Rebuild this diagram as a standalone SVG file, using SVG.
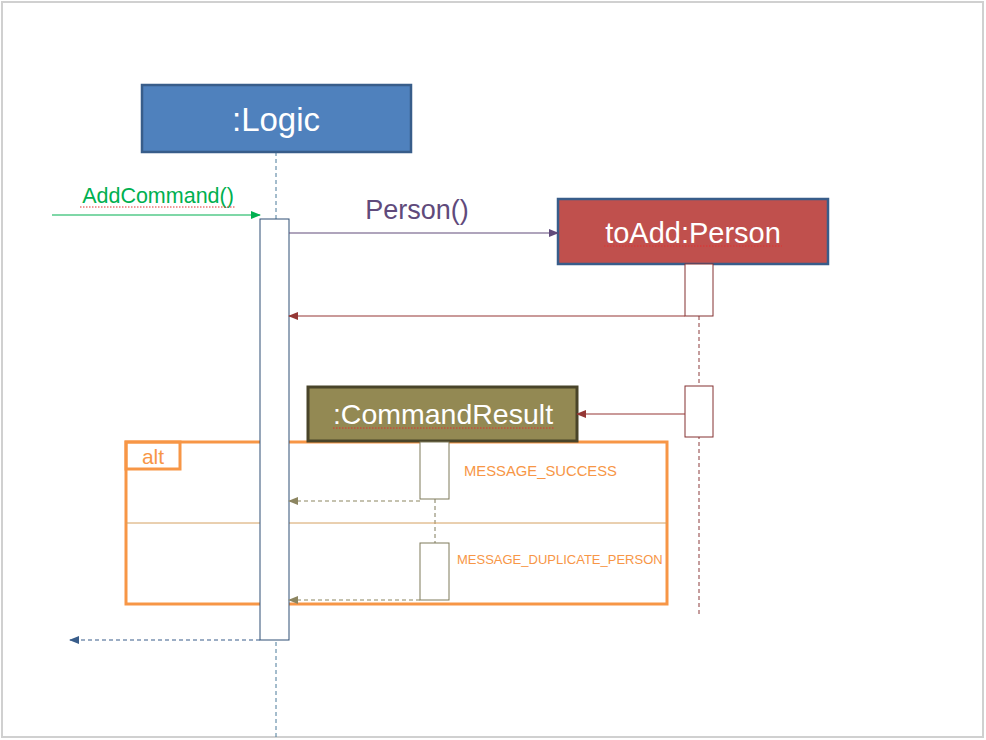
<svg xmlns="http://www.w3.org/2000/svg" width="986" height="740" viewBox="0 0 986 740">
<style>
.t{font-family:"Liberation Sans",Arial,sans-serif;}
.w{fill:#fff;text-anchor:middle;}
.act{fill:#fff;}
.sq{fill:none;stroke:#e03030;stroke-width:1;stroke-dasharray:1.5 1.5;}
</style>
<defs>
<marker id="mGreen" markerWidth="10" markerHeight="8" refX="9" refY="4" orient="auto" markerUnits="userSpaceOnUse"><path d="M0,0 L10,4 L0,8 z" fill="#00B050"/></marker>
<marker id="mPurple" markerWidth="10" markerHeight="8" refX="9" refY="4" orient="auto" markerUnits="userSpaceOnUse"><path d="M0,0 L10,4 L0,8 z" fill="#604A7B"/></marker>
<marker id="mRed" markerWidth="10" markerHeight="8" refX="9" refY="4" orient="auto" markerUnits="userSpaceOnUse"><path d="M0,0 L10,4 L0,8 z" fill="#953735"/></marker>
<marker id="mOlive" markerWidth="10" markerHeight="8" refX="9" refY="4" orient="auto" markerUnits="userSpaceOnUse"><path d="M0,0 L10,4 L0,8 z" fill="#8C8560"/></marker>
<marker id="mBlue" markerWidth="10" markerHeight="8" refX="9" refY="4" orient="auto" markerUnits="userSpaceOnUse"><path d="M0,0 L10,4 L0,8 z" fill="#385D8A"/></marker>
</defs>
<rect x="0" y="0" width="986" height="740" fill="#fff"/>
<rect x="2" y="2" width="981" height="735" fill="none" stroke="#d0d0d0" stroke-width="2"/>

<g id="lifelines" fill="none">
<line x1="276" y1="152" x2="276" y2="737" stroke="#4A7A9A" stroke-width="1" stroke-dasharray="4 3"/>
<line x1="699" y1="316" x2="699" y2="614" stroke="#8B3A3A" stroke-width="1" stroke-dasharray="4 3"/>
<line x1="435" y1="499" x2="435" y2="543" stroke="#7F7A5A" stroke-width="1" stroke-dasharray="4 3"/>
</g>

<g id="alt">
<rect x="126" y="442" width="541" height="162" fill="none" stroke="#F79646" stroke-width="3"/>
<line x1="126" y1="523" x2="667" y2="523" stroke="#D4A060" stroke-width="1"/>
<rect x="126" y="442" width="54" height="27" fill="none" stroke="#F79646" stroke-width="3"/>
<text class="t" x="153" y="464" font-size="21" fill="#F79646" text-anchor="middle">alt</text>
<text class="t" x="464" y="476" font-size="14.8" fill="#F79646">MESSAGE_SUCCESS</text>
<text class="t" x="457" y="564" font-size="13" fill="#F79646">MESSAGE_DUPLICATE_PERSON</text>
</g>

<g id="logic">
<rect x="142" y="85" width="269" height="67" fill="#4F81BD" stroke="#385D8A" stroke-width="2.5"/>
<text class="t w" x="276" y="131" font-size="33">:Logic</text>
</g>
<g id="logic-activation">
<rect class="act" x="260" y="219" width="29" height="421" stroke="#2F4F75" stroke-width="1"/>
</g>

<g id="person">
<rect x="558" y="199" width="270" height="65" fill="#C0504D" stroke="#385D8A" stroke-width="2.5"/>
<text class="t w" x="693" y="243" font-size="29">toAdd:Person</text>
<path class="sq" d="M604,246 L782,246"/>
</g>
<g id="person-activation1">
<rect class="act" x="685" y="264" width="28" height="52" stroke="#843030" stroke-width="1"/>
</g>
<g id="person-activation2">
<rect class="act" x="685" y="386" width="28" height="51" stroke="#843030" stroke-width="1"/>
</g>

<g id="commandresult">
<rect x="308" y="387" width="269" height="54" fill="#938953" stroke="#494429" stroke-width="3"/>
<text class="t w" x="443" y="424" font-size="28.5">:CommandResult</text>
<path class="sq" d="M333,428 L555,428"/>
</g>
<g id="cr-activation1">
<rect class="act" x="420" y="442" width="29" height="57" stroke="#7F7A5A" stroke-width="1"/>
</g>
<g id="cr-activation2">
<rect class="act" x="420" y="543" width="29" height="57" stroke="#7F7A5A" stroke-width="1"/>
</g>

<g id="connectors" fill="none">
<line x1="52" y1="215" x2="260" y2="215" stroke="#00B050" stroke-width="1.2" marker-end="url(#mGreen)"/>
<line x1="289" y1="233" x2="558" y2="233" stroke="#604A7B" stroke-width="1.2" marker-end="url(#mPurple)"/>
<line x1="685" y1="316" x2="289" y2="316" stroke="#953735" stroke-width="1.2" marker-end="url(#mRed)"/>
<line x1="685" y1="414" x2="577" y2="414" stroke="#953735" stroke-width="1.2" marker-end="url(#mRed)"/>
<line x1="420" y1="501" x2="289" y2="501" stroke="#8C8560" stroke-width="1.2" stroke-dasharray="4 3" marker-end="url(#mOlive)"/>
<line x1="420" y1="600" x2="289" y2="600" stroke="#8C8560" stroke-width="1.2" stroke-dasharray="4 3" marker-end="url(#mOlive)"/>
<line x1="260" y1="640" x2="70" y2="640" stroke="#385D8A" stroke-width="1.2" stroke-dasharray="4 3" marker-end="url(#mBlue)"/>
</g>

<g id="labels">
<text class="t" x="158" y="203" font-size="21.5" fill="#00B050" text-anchor="middle">AddCommand()</text>
<path class="sq" d="M80,207 L236,207"/>
<text class="t" x="417" y="219" font-size="27" fill="#604A7B" text-anchor="middle">Person()</text>
</g>
</svg>
